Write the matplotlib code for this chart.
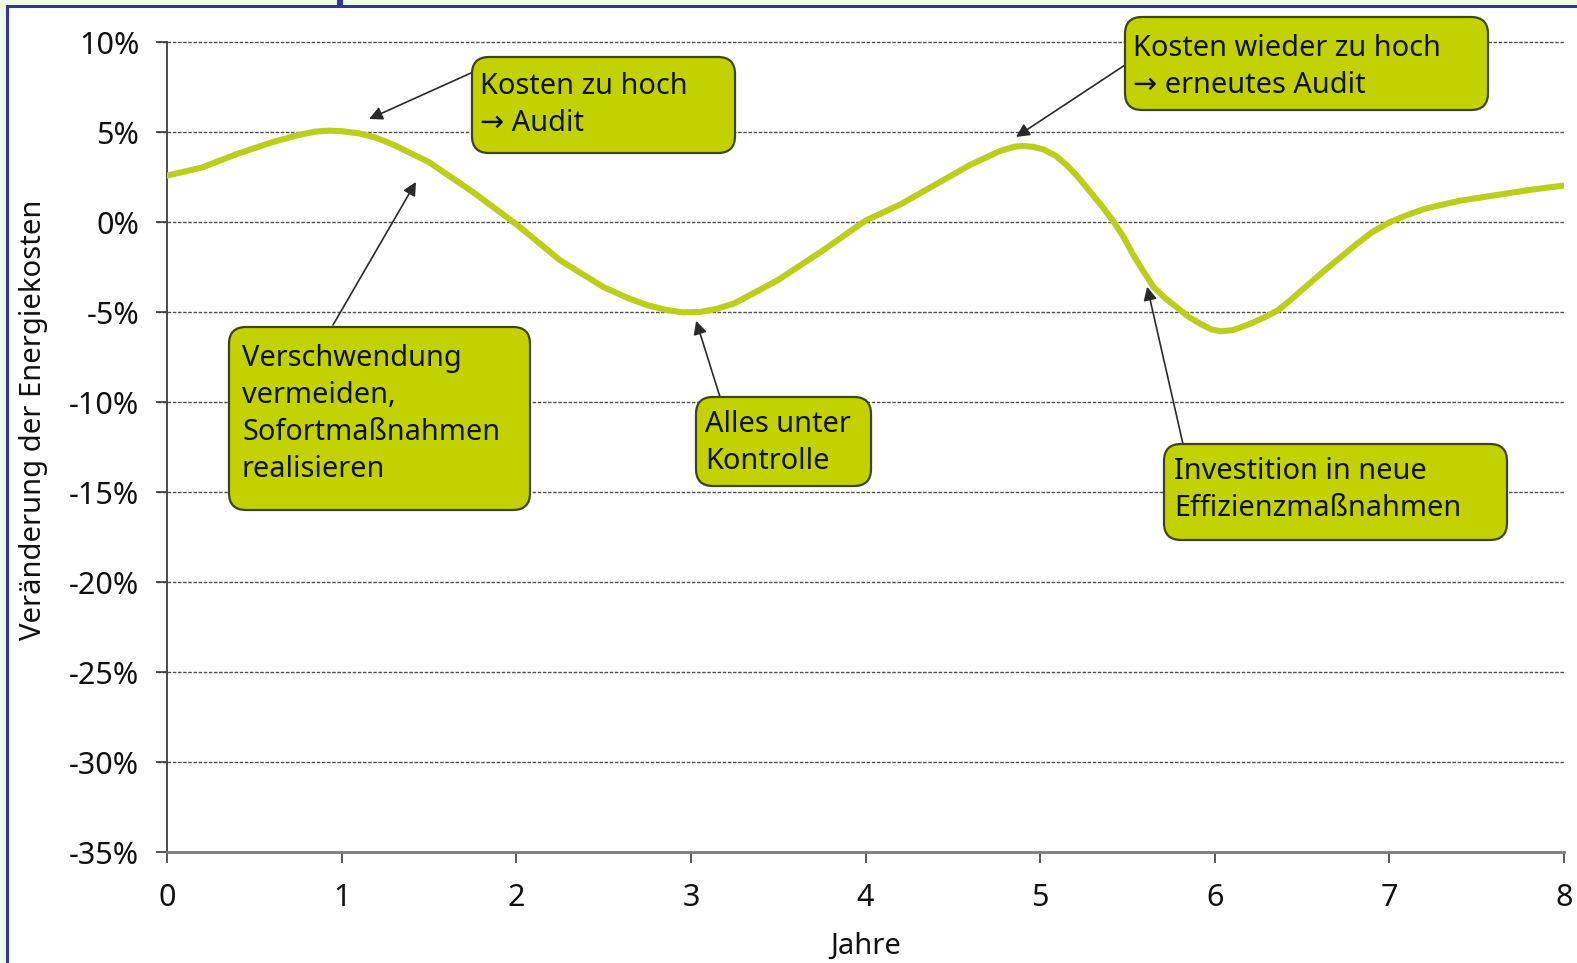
import matplotlib
matplotlib.use("Agg")
import matplotlib.pyplot as plt
from matplotlib.patches import FancyBboxPatch, Rectangle
from matplotlib.lines import Line2D

plt.rcParams["font.family"] = ["Noto Sans", "DejaVu Sans"]

# years since start and change of energy cost in percent
years = [0, 0.2, 0.4, 0.6, 0.75, 0.85, 0.93, 1.0, 1.1, 1.2, 1.3, 1.5, 1.75,
         2.0, 2.25, 2.5, 2.65, 2.75, 2.85, 2.95, 3.05, 3.15, 3.25, 3.5, 3.75,
         4.0, 4.2, 4.4, 4.6, 4.7, 4.77, 4.85, 4.9, 4.96, 5.02, 5.09, 5.15,
         5.21, 5.27, 5.35, 5.42, 5.48, 5.53, 5.59, 5.65, 5.72, 5.78, 5.85,
         5.92, 5.98, 6.03, 6.1, 6.2, 6.28, 6.36, 6.43, 6.5, 6.65, 6.8, 6.9,
         7.0, 7.1, 7.2, 7.4, 7.6, 7.8, 8.0]
change = [2.6, 3.05, 3.8, 4.45, 4.85, 5.05, 5.1, 5.07, 4.95, 4.7, 4.3, 3.35,
          1.7, -0.1, -2.1, -3.6, -4.25, -4.6, -4.85, -5.0, -4.98, -4.8, -4.5,
          -3.2, -1.6, 0.1, 1.0, 2.1, 3.2, 3.65, 3.97, 4.2, 4.25, 4.2, 4.05,
          3.7, 3.2, 2.6, 1.9, 0.95, 0.05, -0.85, -1.75, -2.7, -3.6, -4.25,
          -4.7, -5.25, -5.65, -5.95, -6.05, -6.0, -5.65, -5.3, -4.9, -4.35,
          -3.75, -2.5, -1.3, -0.55, 0.0, 0.4, 0.75, 1.2, 1.5, 1.8, 2.05]

y_ticks = [10, 5, 0, -5, -10, -15, -20, -25, -30, -35]
y_tick_labels = ["10%", "5%", "0%", "-5%", "-10%", "-15%", "-20%", "-25%", "-30%", "-35%"]
x_ticks = [0, 1, 2, 3, 4, 5, 6, 7, 8]

# callout texts and the curve point each one refers to (year, percent)
notes = [
    ["Kosten zu hoch", "\u2192 Audit"],
    ["Kosten wieder zu hoch", "\u2192 erneutes Audit"],
    ["Verschwendung", "vermeiden,", "Sofortma\u00dfnahmen", "realisieren"],
    ["Alles unter", "Kontrolle"],
    ["Investition in neue", "Effizienzma\u00dfnahmen"],
]
note_targets = [(1.157, 5.75), (4.862, 4.75), (1.426, 2.25), (3.03, -5.47), (5.613, -3.58)]

# layout of the callouts in pixels from top-left: box, text start, arrow tail
box_px = [(472, 57, 735, 153), (1125, 17, 1488, 110), (229, 327, 530, 510),
          (696, 397, 871, 486), (1164, 444, 1507, 540)]
text_px = [(480, 86), (1133, 48), (242, 358), (705, 424), (1174, 471)]
tail_px = [(471, 73), (1125, 65), (333, 325), (720, 397), (1183, 444)]

W, H, DPI = 1577, 963, 100
LINE_GAP = 37
FS = 20.8

curve_col = "#b9cf1c"
box_col = "#c2d200"
box_edge = "#3d4512"
frame_col = "#3434a6"
text_col = "#111111"


def px(x, y):
    """pixel position (top-left origin) -> inches for dpi_scale_trans"""
    return x / DPI, (H - y) / DPI


fig = plt.figure(figsize=(W / DPI, H / DPI), dpi=DPI, facecolor="#eefbe6")

# white page with a blue edge on the left and top
fig.patches.append(Rectangle((8 / W, 0), 1, 1 - 7 / H, transform=fig.transFigure,
                             facecolor="white", edgecolor="none", zorder=-10))
fig.lines.append(Line2D([7 / W, 7 / W], [0, 1 - 6 / H], transform=fig.transFigure,
                        color=frame_col, lw=2.2))
fig.lines.append(Line2D([7 / W, 1], [1 - 6 / H, 1 - 6 / H], transform=fig.transFigure,
                        color=frame_col, lw=2.2))
fig.patches.append(Rectangle((337 / W, 1 - 7 / H), 6 / W, 7 / H, transform=fig.transFigure,
                             facecolor=frame_col, edgecolor="none"))

ax = fig.add_axes([167 / W, 1 - 852 / H, (1564 - 167) / W, (852 - 42.5) / H])
ax.set_facecolor("white")
ax.set_xlim(0, 8)
ax.set_ylim(-35, 10)

for v in y_ticks[:-1]:
    ax.plot([-0.06, 8], [v, v], color="#4d4d4d", lw=1.0, dashes=(2.5, 1.2),
            zorder=1, clip_on=False)

ax.plot(years, change, color=curve_col, lw=4.4, solid_joinstyle="round",
        solid_capstyle="round", zorder=3)

for s in ("top", "right"):
    ax.spines[s].set_visible(False)
ax.spines["left"].set_color("#3a3a3a")
ax.spines["left"].set_linewidth(1.3)
ax.spines["bottom"].set_color("#7a7a7a")
ax.spines["bottom"].set_linewidth(2.0)

ax.set_yticks(y_ticks)
ax.set_yticklabels(y_tick_labels)
ax.set_xticks(x_ticks)
ax.tick_params(axis="y", direction="out", length=8, width=1.2, color="#3a3a3a",
               pad=12, labelsize=22, labelcolor=text_col)
ax.tick_params(axis="x", direction="out", length=8, width=1.2, color="#3a3a3a",
               pad=14, labelsize=22, labelcolor=text_col)

ax.set_xlabel("Jahre", fontsize=21, color=text_col, labelpad=14)
ax.set_ylabel("Ver\u00e4nderung der Energiekosten", fontsize=21, color=text_col)
ax.yaxis.set_label_coords(-0.085, 0.534)

# callout boxes with arrows pointing at the curve
for lines, (tx, ty), (bx0, by0, bx1, by1), (lx, ly), (ax0, ay0) in zip(
        notes, note_targets, box_px, text_px, tail_px):
    x0, y1 = px(bx0, by0)
    x1, y0 = px(bx1, by1)
    box = FancyBboxPatch((x0, y0), x1 - x0, y1 - y0,
                         boxstyle="round,pad=0,rounding_size=0.17",
                         transform=fig.dpi_scale_trans, facecolor=box_col,
                         edgecolor=box_edge, lw=1.6, zorder=5)
    fig.patches.append(box)
    for i, line in enumerate(lines):
        x, y = px(lx, ly + i * LINE_GAP + 8)
        fig.text(x, y, line, transform=fig.dpi_scale_trans, ha="left",
                 va="baseline", fontsize=FS, color=text_col, zorder=6)
    ax.annotate("", xy=(tx, ty), xycoords="data", xytext=px(ax0, ay0),
                textcoords=fig.dpi_scale_trans,
                arrowprops=dict(arrowstyle="-|>", color="#2a2a2a", lw=1.2,
                                mutation_scale=20, shrinkA=0, shrinkB=0),
                zorder=4, annotation_clip=False)

fig.savefig("out.png", dpi=DPI, facecolor=fig.get_facecolor())
